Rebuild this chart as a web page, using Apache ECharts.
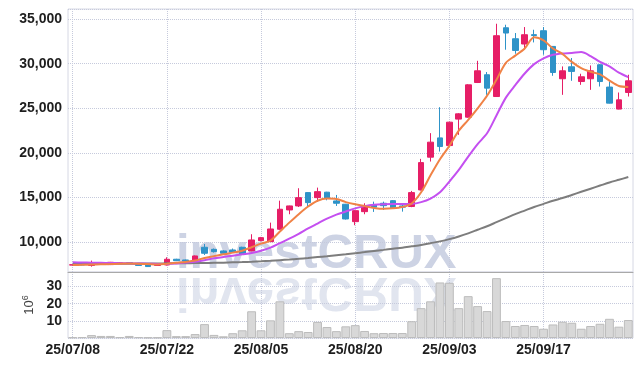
<!DOCTYPE html>
<html><head><meta charset="utf-8">
<script src="https://cdn.jsdelivr.net/npm/echarts@6/dist/echarts.min.js"></script>
<style>html,body{margin:0;padding:0;background:#fff}#c{width:642px;height:366px}</style>
</head><body><div id="c"></div>
<script>
const dates = ['25/07/08','25/07/09','25/07/10','25/07/11','25/07/14','25/07/15','25/07/16','25/07/17','25/07/18','25/07/21',
'25/07/22','25/07/23','25/07/24','25/07/25','25/07/28','25/07/29','25/07/30','25/07/31','25/08/01','25/08/04',
'25/08/05','25/08/06','25/08/07','25/08/08','25/08/11','25/08/12','25/08/13','25/08/14','25/08/18','25/08/19',
'25/08/20','25/08/21','25/08/22','25/08/25','25/08/26','25/08/27','25/08/28','25/08/29','25/09/01','25/09/02',
'25/09/03','25/09/04','25/09/05','25/09/08','25/09/09','25/09/10','25/09/11','25/09/12','25/09/15','25/09/16',
'25/09/17','25/09/18','25/09/19','25/09/22','25/09/23','25/09/24','25/09/25','25/09/26','25/09/29','25/09/30'];
const opens  = [7450,7500,7400,7720,7500,7650,7720,7560,7450,7400, 7460,8100,8020,7940,9440,9210,9030,9140,9440,9030,
10180,10070,11460,13620,14070,15560,15000,15610,14630,14260, 12310,13430,14180,14370,14660,14070,14010,15860,19530,21690,
20830,23790,24010,27890,28760,26320,34020,32790,32200,33250, 33690,31930,28310,29650,28000,28310,29880,27380,24910,26770];
const closes = [7480,7460,7650,7600,7760,7700,7680,7400,7280,7560, 8100,7940,7900,8470,8770,8950,8770,8880,8690,10260,
10520,11490,13700,14070,15000,14440,15670,14930,14370,12610, 13540,14070,13930,14100,13810,13930,15560,18920,21210,20720,
23450,24380,27630,29200,27260,33130,33430,31480,33240,33150, 31560,29010,29200,29130,28530,29200,28000,25580,25950,28080];
const lows   = [7400,7430,7270,7560,7450,7620,7650,7380,7250,7380, 7400,7900,7880,7900,8580,8850,8700,8850,8650,9000,
10100,10050,11400,13140,13950,13990,14550,14700,14070,12550, 11910,13140,13400,13620,13750,13430,13930,15800,19040,20160,
20800,22030,23950,27830,26510,26300,31560,31110,31560,32380, 31000,28640,26510,28080,27630,27070,27440,25550,24880,26320];
const highs  = [7520,7540,7950,7750,7800,7740,7750,7580,7470,7580, 8320,8150,8060,8520,9810,9300,9100,9300,9500,10900,
10600,12200,14660,14100,16050,15600,16120,15650,15300,14300, 13600,14370,14550,14550,14720,14370,15750,19340,22220,25130,
23500,24450,27700,30320,29060,34470,34360,33430,34100,33800, 34100,31950,29690,30630,28870,29800,29950,28000,26770,28760];
const ma5  = [7450,7470,7500,7530,7560,7600,7620,7600,7560,7520, 7600,7700,7800,7950,8250,8450,8650,8840,9060,9450,
9850,10200,11200,12200,13150,14000,14650,14900,14850,14500, 14250,14050,13850,13750,13800,13950,14350,15600,17500,19300,
20800,22500,23700,25000,26400,28200,30100,30900,31700,32950, 32600,31700,31100,30200,29500,29100,28800,28100,27500,27400];
const ma20 = [7750,7740,7720,7700,7680,7660,7640,7620,7600,7580, 7560,7630,7730,7830,7980,8200,8350,8500,8650,8800,
9050,9400,9900,10400,10950,11550,12100,12650,13100,13450, 13800,14050,14200,14260,14280,14280,14300,14500,14900,15600,
16800,18100,19600,21000,22200,24200,26200,27600,28900,29950, 30600,31000,31150,31200,31300,30850,30200,29700,29000,28500];
const ma60 = [7580,7580,7580,7590,7590,7600,7600,7610,7620,7630, 7640,7650,7660,7670,7680,7700,7720,7750,7780,7820,
7870,7930,8000,8070,8150,8240,8340,8440,8550,8660, 8780,8900,9030,9150,9280,9400,9550,9700,9900,10100,
10350,10650,11000,11400,11800,12250,12700,13150,13550,13950, 14300,14650,14950,15300,15650,16000,16350,16700,17000,17300];
const volumes = [0.4,0.5,1.7,1.2,1.2,0.5,1.2,0.5,0.3,0.3, 4.6,1.1,1.1,2.3,8.1,1.8,1.0,2.8,4.5,15.6,
4.5,10.3,21.4,2.8,4.0,3.5,9.4,6.4,4.0,6.8, 7.5,4.1,2.8,2.9,2.9,2.9,9.8,17.4,21.4,32.4,
32.2,17.4,24.4,18.6,15.7,34.9,9.9,7.0,7.6,7.0, 5.4,7.9,9.5,8.9,5.4,7.0,8.3,11.2,6.6,10.5];

const FONT = '"Liberation Sans",Arial,sans-serif';
const GRIDC = '#c6cadc';
const UP = '#e61e66', DOWN = '#2e93c8';

const ohlc = dates.map((d, i) => [opens[i], closes[i], lows[i], highs[i]]);
const lbl = {fontFamily: FONT, fontWeight: 'bold', fontSize: 14, color: '#1e1e1e'};

const chart = echarts.init(document.getElementById('c'), null, {renderer: 'canvas'});
chart.setOption({
  animation: false,
  backgroundColor: '#ffffff',
  grid: [
    {left: 68, right: 9, top: 9, height: 263, show: true, borderColor: '#d6d8e4', borderWidth: 1},
    {left: 68, right: 9, top: 272, height: 66, show: true, borderColor: '#d6d8e4', borderWidth: 1}
  ],
  xAxis: [
    {type: 'category', gridIndex: 0, data: dates, boundaryGap: true,
     axisLine: {show: true, lineStyle: {color: '#a9a9a9', width: 1}}, axisTick: {show: false}, axisLabel: {show: false},
     splitLine: {show: true, interval: 9, alignWithLabel: true, lineStyle: {type: 'dotted', color: GRIDC}}},
    {type: 'category', gridIndex: 1, data: dates, boundaryGap: true,
     axisLine: {show: false}, axisTick: {show: false},
     axisLabel: Object.assign({interval: 9, margin: 5}, lbl),
     splitLine: {show: true, interval: 9, alignWithLabel: true, lineStyle: {type: 'dotted', color: GRIDC}}}
  ],
  yAxis: [
    {type: 'value', gridIndex: 0, min: 6672, max: 36121, splitNumber: 6,
     axisLine: {show: false}, axisTick: {show: false},
     axisLabel: Object.assign({showMinLabel: false, showMaxLabel: false, margin: 6,
       formatter: v => v.toLocaleString('en-US')}, lbl),
     splitLine: {show: true, lineStyle: {type: 'dotted', color: GRIDC}}},
    {type: 'value', gridIndex: 1, min: 0, max: 38.5, interval: 10,
     axisLine: {show: false}, axisTick: {show: false},
     axisLabel: Object.assign({showMinLabel: false, showMaxLabel: false, margin: 6}, lbl),
     splitLine: {show: true, lineStyle: {type: 'dotted', color: GRIDC}},
     name: '{a|10}{b|6}', nameLocation: 'middle', nameRotate: 90, nameGap: 20,
     nameTextStyle: {rich: {
       a: {fontFamily: FONT, fontSize: 13, color: '#444', lineHeight: 16},
       b: {fontFamily: FONT, fontSize: 9, color: '#444', verticalAlign: 'top', lineHeight: 10}
     }}}
  ],
  graphic: [
    {type: 'text', z: -10, x: 176, y: 254,
     style: {text: 'investCRUX', font: 'bold 49px "Liberation Sans",Arial,sans-serif', fill: '#cdd3e4', verticalAlign: 'middle'}},
    {type: 'text', z: -10, x: 176, y: 274, scaleY: -1,
     style: {text: 'investCRUX', font: 'bold 49px "Liberation Sans",Arial,sans-serif', fill: 'rgba(205,211,228,0.6)', y: -17.5, verticalAlign: 'middle'}}
  ],
  series: [
    {type: 'candlestick', xAxisIndex: 0, yAxisIndex: 0, data: ohlc, barWidth: '66%',
     itemStyle: {color: UP, color0: DOWN, borderColor: UP, borderColor0: DOWN, borderWidth: 1}},
    {type: 'line', xAxisIndex: 0, yAxisIndex: 0, data: ma60, smooth: 0.3, symbol: 'none',
     lineStyle: {color: '#7d7d7d', width: 2}},
    {type: 'line', xAxisIndex: 0, yAxisIndex: 0, data: ma20, smooth: 0.3, symbol: 'none',
     lineStyle: {color: '#c44ff0', width: 2}},
    {type: 'line', xAxisIndex: 0, yAxisIndex: 0, data: ma5, smooth: 0.3, symbol: 'none',
     lineStyle: {color: '#f08246', width: 2}},
    {type: 'bar', xAxisIndex: 1, yAxisIndex: 1, data: volumes, barCategoryGap: '6%',
     itemStyle: {color: '#d8d8d8', borderColor: '#bcbcbc', borderWidth: 1}}
  ]
});
</script></body></html>
